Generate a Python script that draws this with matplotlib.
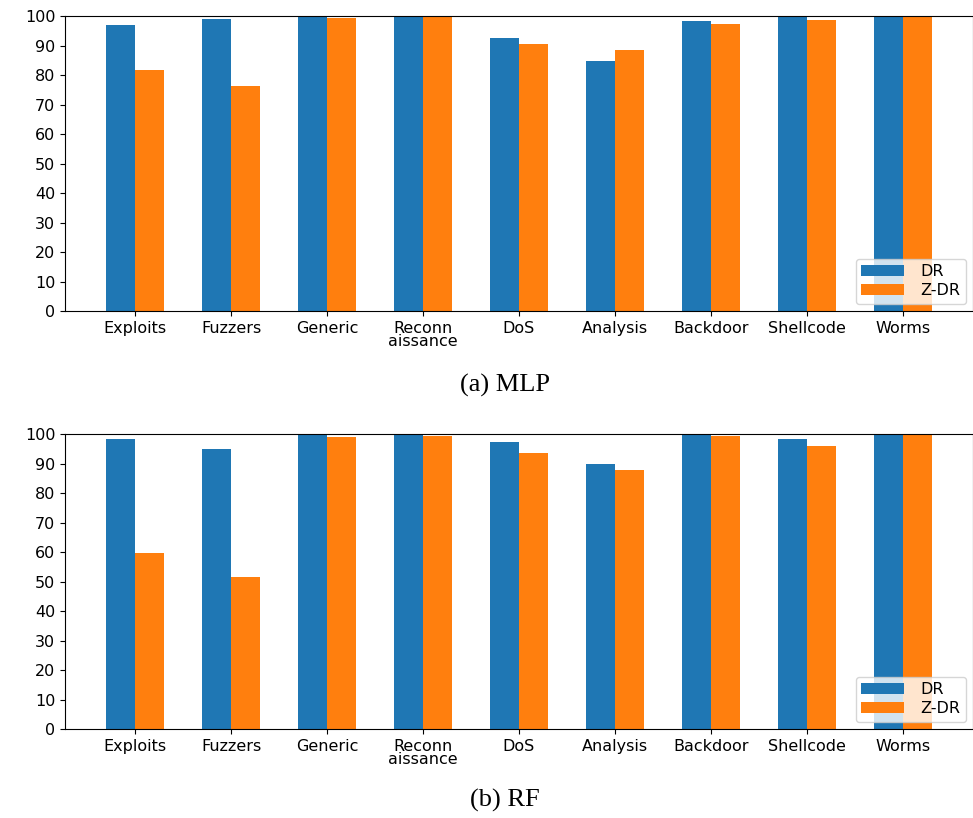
import numpy as np
import matplotlib
matplotlib.use('Agg')
import matplotlib.pyplot as plt

categories = ['Exploits', 'Fuzzers', 'Generic', 'Reconn\naissance', 'DoS',
              'Analysis', 'Backdoor', 'Shellcode', 'Worms']

# detection rates (%) per attack category
mlp_dr = [97.0, 99.0, 100.0, 100.0, 92.6, 84.6, 98.3, 99.9, 100.0]
mlp_zdr = [81.6, 76.2, 99.4, 99.9, 90.6, 88.6, 97.3, 98.7, 100.0]
rf_dr = [98.3, 94.9, 100.0, 100.0, 97.3, 89.9, 100.0, 98.3, 100.0]
rf_zdr = [59.6, 51.5, 99.0, 99.4, 93.6, 87.9, 99.4, 96.0, 100.0]

captions = ['(a) MLP', '(b) RF']

plt.rcParams['font.family'] = 'DejaVu Sans'
fig = plt.figure(figsize=(9.73, 8.18), dpi=100)

ax_top = fig.add_axes([0.0668, 0.6198, 0.9332, 0.3606])
ax_bot = fig.add_axes([0.0668, 0.1088, 0.9332, 0.3606])

x = np.arange(len(categories))
width = 0.3

for ax, dr, zdr in [(ax_top, mlp_dr, mlp_zdr), (ax_bot, rf_dr, rf_zdr)]:
    ax.bar(x - width / 2, dr, width, color='#1f77b4', label='DR')
    ax.bar(x + width / 2, zdr, width, color='#ff7f0e', label='Z-DR')
    ax.set_ylim(0, 100)
    ax.set_yticks(np.arange(0, 101, 10))
    ax.set_xticks(x)
    ax.set_xticklabels(categories, fontsize=11.5, linespacing=0.85)
    ax.tick_params(axis='y', labelsize=11.5)
    ax.legend(loc='lower right', fontsize=11.5, handlelength=2.7,
              handletextpad=1.0, borderaxespad=0.45, labelspacing=0.25,
              borderpad=0.35)

fig.text(0.519, 0.529, captions[0], ha='center', va='center',
         family='Liberation Serif', fontsize=19)
fig.text(0.519, 0.021, captions[1], ha='center', va='center',
         family='Liberation Serif', fontsize=19)

fig.savefig('out.png', dpi=100)
